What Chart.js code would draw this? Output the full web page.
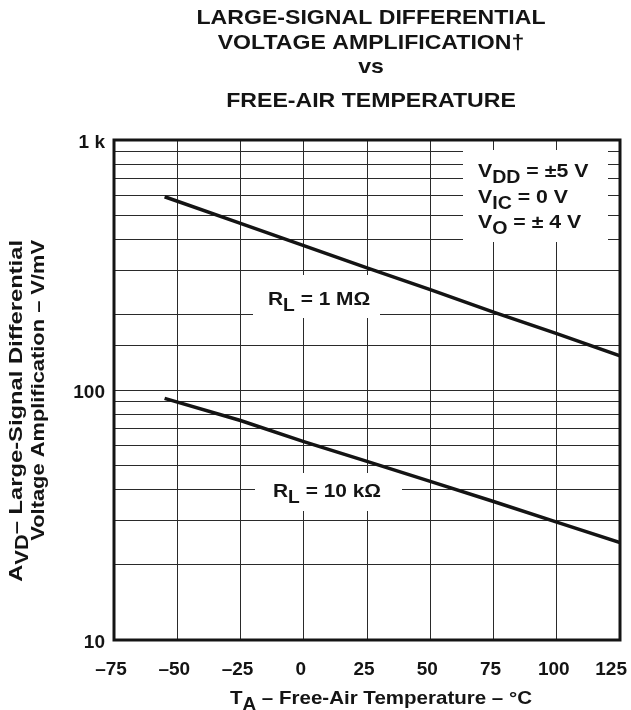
<!DOCTYPE html>
<html>
<head>
<meta charset="utf-8">
<script src="https://cdn.jsdelivr.net/npm/chart.js@4/dist/chart.umd.min.js"></script>
<style>
  html, body { margin: 0; padding: 0; background: #fff; }
  #wrap { width: 631px; height: 710px; }
</style>
</head>
<body>
<div id="wrap"><canvas id="avdChart" width="631" height="710"></canvas></div>
<script>
// A_VD vs T_A, two load resistances
const temps   = [-55, -25, 0, 25, 50, 75, 100, 125];
const gain1M  = [593, 464, 378, 308, 252, 205, 168, 137];
const gain10k = [92.6, 75.5, 62.2, 51.8, 43.1, 35.8, 29.6, 24.5];

const xTickValues = [-75, -50, -25, 0, 25, 50, 75, 100, 125];
const yTickValues = [10, 100, 1000];
const yTickText   = ['10', '100', '1 k'];

const FONT = '"Liberation Sans", Arial, Helvetica, sans-serif';
const INK = '#141414';

// draw a run of text pieces, some as subscripts, with optional horizontal stretch
function runWidth(ctx, parts, size, sx) {
  let w = 0;
  parts.forEach(p => {
    ctx.font = 'bold ' + (p.sub ? size * 0.92 : size) + 'px ' + FONT;
    w += ctx.measureText(p.t).width * sx;
  });
  return w;
}
function drawRun(ctx, parts, x, y, align, size, sx) {
  const w = runWidth(ctx, parts, size, sx);
  let cx = align === 'center' ? x - w / 2 : align === 'right' ? x - w : x;
  ctx.fillStyle = INK;
  ctx.textAlign = 'left';
  ctx.textBaseline = 'alphabetic';
  parts.forEach(p => {
    const s = p.sub ? size * 0.92 : size;
    ctx.font = 'bold ' + s + 'px ' + FONT;
    const pw = ctx.measureText(p.t).width * sx;
    ctx.save();
    ctx.translate(cx, y + (p.sub ? size * 0.3 : 0));
    ctx.scale(sx, 1);
    ctx.fillText(p.t, 0, 0);
    ctx.restore();
    cx += pw;
  });
}
function whiteBox(ctx, x0, y0, x1, y1) {
  ctx.fillStyle = '#fff';
  ctx.fillRect(x0, y0, x1 - x0, y1 - y0);
}

const textPlugin = {
  id: 'avdText',
  beforeDatasetsDraw(chart) {
    const ctx = chart.ctx;
    ctx.save();
    // curve labels and test conditions sit on white patches over the grid
    whiteBox(ctx, 253, 275, 380, 318);
    drawRun(ctx, [{t: 'R'}, {t: 'L', sub: true}, {t: ' = 1 M\u03A9'}], 268, 305, 'left', 19, 1.1);
    whiteBox(ctx, 255, 473, 402, 511);
    drawRun(ctx, [{t: 'R'}, {t: 'L', sub: true}, {t: ' = 10 k\u03A9'}], 273, 497, 'left', 19, 1.1);
    whiteBox(ctx, 463, 150, 608, 242);
    drawRun(ctx, [{t: 'V'}, {t: 'DD', sub: true}, {t: ' = \u00B15 V'}], 478, 177, 'left', 19, 1.12);
    drawRun(ctx, [{t: 'V'}, {t: 'IC', sub: true}, {t: ' = 0 V'}], 478, 203, 'left', 19, 1.12);
    drawRun(ctx, [{t: 'V'}, {t: 'O', sub: true}, {t: ' = \u00B1 4 V'}], 478, 228, 'left', 19, 1.12);
    ctx.restore();
  },
  afterDraw(chart) {
    const ctx = chart.ctx;
    const a = chart.chartArea;
    const xs = chart.scales.x, ys = chart.scales.y;
    ctx.save();
    // plot frame
    ctx.strokeStyle = INK;
    ctx.lineWidth = 3;
    ctx.strokeRect(a.left, a.top, a.right - a.left, a.bottom - a.top);

    // tick labels
    xTickValues.forEach(v => {
      const txt = (v < 0 ? '\u2013' : '') + Math.abs(v);
      ctx.font = 'bold 19px ' + FONT;
      const w = ctx.measureText(txt).width;
      let cx = xs.getPixelForValue(v) - 3;
      cx = Math.min(cx, 627 - w / 2);
      drawRun(ctx, [{t: txt}], cx, 675, 'center', 19, 1);
    });
    yTickValues.forEach((v, i) => {
      drawRun(ctx, [{t: yTickText[i]}], 105, ys.getPixelForValue(v) + 8, 'right', 19, 1);
    });

    // title
    drawRun(ctx, [{t: 'LARGE-SIGNAL DIFFERENTIAL'}], 371, 24, 'center', 21, 1.1);
    drawRun(ctx, [{t: 'VOLTAGE AMPLIFICATION\u2020'}], 371, 49, 'center', 21, 1.1);
    drawRun(ctx, [{t: 'vs'}], 371, 73, 'center', 21, 1.1);
    drawRun(ctx, [{t: 'FREE-AIR TEMPERATURE'}], 371, 107, 'center', 21, 1.1);

    // x axis title
    drawRun(ctx, [{t: 'T'}, {t: 'A', sub: true}, {t: ' \u2013 Free-Air Temperature \u2013 \u00B0C'}], 381, 704, 'center', 19, 1.08);

    // y axis title, rotated
    ctx.save();
    ctx.translate(22, 240);
    ctx.rotate(-Math.PI / 2);
    drawRun(ctx, [{t: 'A'}, {t: 'VD', sub: true}, {t: '\u2013 Large-Signal Differential'}], 0, 0, 'right', 19, 1.25);
    ctx.restore();
    ctx.save();
    ctx.translate(44, 240);
    ctx.rotate(-Math.PI / 2);
    drawRun(ctx, [{t: 'Voltage Amplification \u2013 V/mV'}], 0, 0, 'right', 19, 1.15);
    ctx.restore();

    ctx.restore();
  }
};

const lineStyle = {
  borderColor: INK,
  borderWidth: 3.5,
  pointRadius: 0,
  tension: 0,
  fill: false
};

new Chart(document.getElementById('avdChart'), {
  type: 'line',
  data: {
    datasets: [
      Object.assign({ label: 'RL = 1 M\u03A9', data: temps.map((t, i) => ({ x: t, y: gain1M[i] })) }, lineStyle),
      Object.assign({ label: 'RL = 10 k\u03A9', data: temps.map((t, i) => ({ x: t, y: gain10k[i] })) }, lineStyle)
    ]
  },
  options: {
    responsive: false,
    animation: false,
    devicePixelRatio: 1,
    layout: { padding: { top: 140, right: 11, left: 0, bottom: 0 } },
    plugins: { legend: { display: false }, tooltip: { enabled: false } },
    scales: {
      x: {
        type: 'linear',
        min: -75,
        max: 125,
        ticks: { stepSize: 25, callback: () => '' },
        grid: { color: '#2a2a2a', lineWidth: 1, drawTicks: false },
        border: { display: false },
        afterFit: s => { s.height = 70; }
      },
      y: {
        type: 'logarithmic',
        min: 10,
        max: 1000,
        ticks: { autoSkip: false, callback: () => '' },
        grid: { color: '#2a2a2a', lineWidth: 1, drawTicks: false },
        border: { display: false },
        afterFit: s => { s.width = 114; }
      }
    }
  },
  plugins: [textPlugin]
});
</script>
</body>
</html>
